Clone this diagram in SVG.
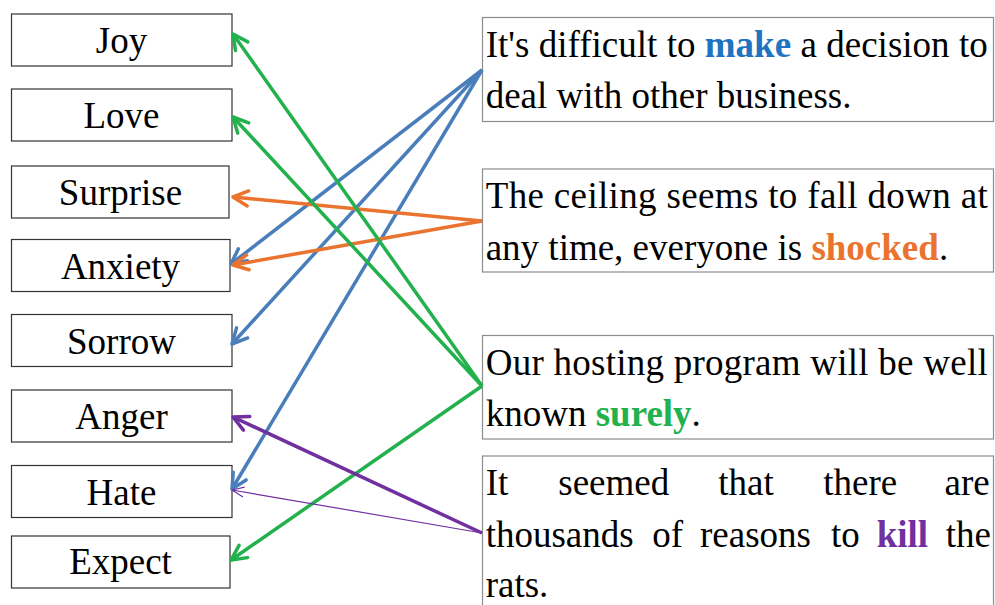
<svg xmlns="http://www.w3.org/2000/svg" width="995" height="605" viewBox="0 0 995 605">
  <style>
    .emo rect { fill: #fff; stroke: #333; stroke-width: 1.2; }
    .emo text { font-family: "Liberation Serif", "Times New Roman", serif; font-size: 37px; fill: #000; text-anchor: middle; }
    .sent rect { fill: #fff; stroke: #8c8c8c; stroke-width: 1.2; }
    .sent text { font-family: "Liberation Serif", "Times New Roman", serif; font-size: 37px; fill: #000; }
    .b { font-weight: bold; }
    .c-blue { fill: #1f73c0; }
    .c-orange { fill: #ea742f; }
    .c-green { fill: #22b14c; }
    .c-purple { fill: #7030a0; }
    .link { fill: none; stroke-width: 3.5; }
    .blue { stroke: #4a7ebb; }
    .orange { stroke: #ea742f; }
    .green { stroke: #22b14c; }
    .purple { stroke: #7030a0; }
  </style>
  <defs>
    <marker id="ah-blue" markerUnits="userSpaceOnUse" orient="auto" refX="0" refY="0" markerWidth="20" markerHeight="20" overflow="visible">
      <path d="M-15,-7.5 L0,0 L-15,7.5" fill="none" stroke="#4a7ebb" stroke-width="3.5" stroke-linejoin="round" stroke-linecap="round"/>
    </marker>
    <marker id="ah-orange" markerUnits="userSpaceOnUse" orient="auto" refX="0" refY="0" markerWidth="20" markerHeight="20" overflow="visible">
      <path d="M-15,-7.5 L0,0 L-15,7.5" fill="none" stroke="#ea742f" stroke-width="3.5" stroke-linejoin="round" stroke-linecap="round"/>
    </marker>
    <marker id="ah-green" markerUnits="userSpaceOnUse" orient="auto" refX="0" refY="0" markerWidth="20" markerHeight="20" overflow="visible">
      <path d="M-15,-7.5 L0,0 L-15,7.5" fill="none" stroke="#22b14c" stroke-width="3.5" stroke-linejoin="round" stroke-linecap="round"/>
    </marker>
    <marker id="ah-purple" markerUnits="userSpaceOnUse" orient="auto" refX="0" refY="0" markerWidth="20" markerHeight="20" overflow="visible">
      <path d="M-15,-7.5 L0,0 L-15,7.5" fill="none" stroke="#7030a0" stroke-width="3.5" stroke-linejoin="round" stroke-linecap="round"/>
    </marker>
    <marker id="ah-purple-thin" markerUnits="userSpaceOnUse" orient="auto" refX="0" refY="0" markerWidth="20" markerHeight="20" overflow="visible">
      <path d="M-12,-5 L0,0 L-12,5" fill="none" stroke="#7030a0" stroke-width="1.2" stroke-linejoin="round"/>
    </marker>
  </defs>

  <!-- emotion labels -->
  <g id="joy" class="emo"><rect x="11.5" y="14" width="220.5" height="52"/><text x="121.5" y="53">Joy</text></g>
  <g id="love" class="emo"><rect x="11.5" y="89" width="220.5" height="52"/><text x="121.5" y="128">Love</text></g>
  <g id="surprise" class="emo"><rect x="11.5" y="166" width="217.5" height="52"/><text x="120.5" y="205">Surprise</text></g>
  <g id="anxiety" class="emo"><rect x="11.5" y="239.5" width="218.5" height="52"/><text x="120.5" y="279">Anxiety</text></g>
  <g id="sorrow" class="emo"><rect x="11.5" y="314.5" width="220.5" height="52"/><text x="121.5" y="354">Sorrow</text></g>
  <g id="anger" class="emo"><rect x="11.5" y="390" width="220.5" height="52"/><text x="121.5" y="429">Anger</text></g>
  <g id="hate" class="emo"><rect x="11.5" y="465.5" width="220.5" height="52"/><text x="121.5" y="505">Hate</text></g>
  <g id="expect" class="emo"><rect x="11.5" y="536" width="218.5" height="52"/><text x="120.5" y="574">Expect</text></g>

  <!-- example sentences -->
  <g id="s-make" class="sent">
    <rect x="482.5" y="17.5" width="511" height="104"/>
    <text x="485.7" y="57" textLength="502" lengthAdjust="spacing">It's difficult to <tspan class="b c-blue">make</tspan> a decision to</text>
    <text x="485.7" y="108">deal with other business.</text>
  </g>
  <g id="s-shocked" class="sent">
    <rect x="482.5" y="169" width="511" height="103"/>
    <text x="485.7" y="208" textLength="502" lengthAdjust="spacing">The ceiling seems to fall down at</text>
    <text x="485.7" y="260">any time, everyone is <tspan class="b c-orange">shocked</tspan>.</text>
  </g>
  <g id="s-surely" class="sent">
    <rect x="482.5" y="335.5" width="511" height="103.5"/>
    <text x="485.7" y="375" textLength="502" lengthAdjust="spacing">Our hosting program will be well</text>
    <text x="485.7" y="426">known <tspan class="b c-green">surely</tspan>.</text>
  </g>
  <g id="s-kill" class="sent">
    <rect x="482.5" y="456" width="511" height="170"/>
    <text y="495"><tspan x="485.7">It</tspan><tspan x="558.3">seemed</tspan><tspan x="718.3">that</tspan><tspan x="823.3">there</tspan><tspan x="944.5">are</tspan></text>
    <text y="546.7"><tspan x="485.7">thousands</tspan><tspan x="652.3">of</tspan><tspan x="700">reasons</tspan><tspan x="831">to</tspan><tspan x="876.7" class="b c-purple">kill</tspan><tspan x="945.7">the</tspan></text>
    <text x="485.7" y="596.7">rats.</text>
  </g>

  <!-- connectors: sentence to emotion -->
  <g id="connectors">
    <line class="link blue" x1="482" y1="70" x2="231" y2="264" marker-end="url(#ah-blue)"/>
    <line class="link blue" x1="482" y1="70" x2="232" y2="344" marker-end="url(#ah-blue)"/>
    <line class="link blue" x1="482" y1="70" x2="232" y2="489" marker-end="url(#ah-blue)"/>
    <line class="link orange" x1="482" y1="221" x2="233" y2="197" marker-end="url(#ah-orange)"/>
    <line class="link orange" x1="482" y1="221" x2="233" y2="265" marker-end="url(#ah-orange)"/>
    <line class="link green" x1="482" y1="386" x2="233" y2="34" marker-end="url(#ah-green)"/>
    <line class="link green" x1="482" y1="386" x2="233" y2="117" marker-end="url(#ah-green)"/>
    <line class="link green" x1="482" y1="386" x2="231" y2="560" marker-end="url(#ah-green)"/>
    <line class="link purple" x1="482" y1="533" x2="233" y2="417" marker-end="url(#ah-purple)"/>
    <line class="purple" fill="none" stroke-width="1.2" x1="482" y1="533" x2="232" y2="490" marker-end="url(#ah-purple-thin)"/>
  </g>
</svg>
